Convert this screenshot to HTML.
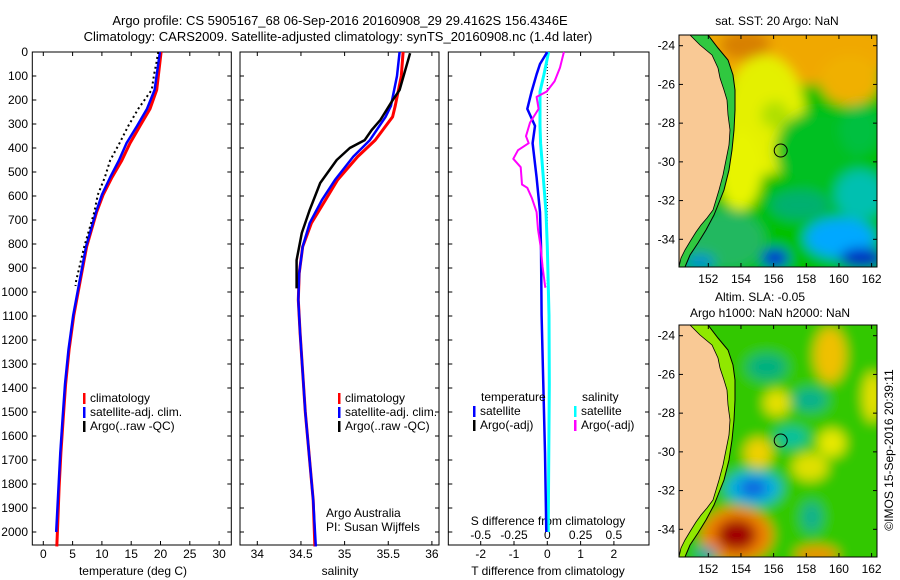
<!DOCTYPE html>
<html><head><meta charset="utf-8">
<style>
html,body{margin:0;padding:0;background:#fff;width:900px;height:580px;overflow:hidden;}
svg{display:block;font-family:"Liberation Sans",sans-serif;}
text{fill:#000;}
</style></head>
<body>
<svg id="fig" width="900" height="580" viewBox="0 0 900 580" xmlns="http://www.w3.org/2000/svg">
<defs>
<filter id="blur6" x="-20%" y="-20%" width="140%" height="140%"><feGaussianBlur stdDeviation="6"/></filter>
<clipPath id="clipM1"><rect x="679" y="35" width="198" height="232"/></clipPath>
<clipPath id="clipM2"><rect x="679" y="325" width="198" height="232"/></clipPath>
</defs>
<text x="340" y="25" font-size="13" text-anchor="middle">Argo profile: CS 5905167_68 06-Sep-2016 20160908_29 29.4162S 156.4346E</text>
<text x="338" y="41" font-size="13" text-anchor="middle">Climatology: CARS2009. Satellite-adjusted climatology: synTS_20160908.nc (1.4d later)</text>
<g id="panels"></g>
<g id="maps"></g>
</svg>
<script>
// ---------- Temperature panel data ----------
const tDepth = [0,158,237,308,380,452,523,595,667,810,954,1097,1240,1384,1527,1670,1814,2000,2060];
const tClim = [20.1,19.35,18.2,16.5,14.8,13.4,11.7,10.2,9.1,7.4,6.3,5.2,4.4,3.8,3.4,3.0,2.7,2.4,2.3];
const tSatDepth = [0,158,237,308,380,452,523,595,667,810,954,1097,1240,1384,1527,1670,1814,2000];
const tSat = [19.9,19.0,17.7,16.0,14.2,12.9,11.4,10.0,9.0,7.3,6.2,5.1,4.3,3.7,3.3,2.9,2.6,2.2];
const tArgoDepth = [0,45,93,158,237,308,380,452,523,595,667,810,954,975];
const tArgo = [19.6,19.3,18.9,18.5,16.2,14.5,13.0,11.4,10.5,9.3,8.7,7.0,5.6,5.5];
const tTicks = [0,5,10,15,20,25,30];
// ---------- Salinity panel data ----------
const sDepth = [0,100,225,270,367,436,533,617,713,811,922,1033,1171,1500,1867,2060];
const sClim = [35.67,35.65,35.58,35.55,35.35,35.15,34.92,34.78,34.62,34.52,34.48,34.47,34.49,34.55,34.64,34.66];
const sSat = [35.63,35.6,35.53,35.47,35.29,35.10,34.89,34.74,34.60,34.52,34.48,34.47,34.49,34.55,34.64,34.67];
const sArgoDepth = [5,158,207,283,325,367,400,450,546,658,754,867,985];
const sArgo = [35.75,35.63,35.54,35.41,35.31,35.23,35.06,34.91,34.72,34.60,34.51,34.45,34.45];
const sTicks = [34,34.5,35,35.5,36];
// ---------- Difference panel data ----------
const dTDepth = [0,50,93,165,237,308,380,523,667,810,1097,1384,1670,2000];
const dTSat = [0,-0.22,-0.32,-0.47,-0.6,-0.37,-0.44,-0.32,-0.22,-0.19,-0.17,-0.12,-0.07,-0.03];
const dSSatDepth = [0,93,165,308,380,523,667,810,1097,1384,2000];
const dSSat = [0.01,-0.025,-0.055,-0.055,-0.05,-0.03,-0.01,0,0.0125,0.015,0.007];
const dSArgoDepth = [0,65,122,165,187,237,294,351,380,409,445,480,552,566,610,667,739,810,896,982];
const dSArgo = [0.125,0.095,0.055,-0.005,-0.08,-0.065,-0.13,-0.16,-0.14,-0.22,-0.255,-0.2,-0.19,-0.15,-0.115,-0.08,-0.07,-0.05,-0.035,-0.015];
const dTTicks = [-2,-1,0,1,2];
const dSTicks = [-0.5,-0.25,0,0.25,0.5];
const dSTickLabels = ["-0.5","-0.25","0","0.25","0.5"];
const depthTicks = [0,100,200,300,400,500,600,700,800,900,1000,1100,1200,1300,1400,1500,1600,1700,1800,1900,2000];
const latTicks = [-24,-26,-28,-30,-32,-34];
const lonTicks = [152,154,156,158,160,162];

const NS = "http://www.w3.org/2000/svg";
const yD = d => 52 + d * 0.24;
const xT = t => 43.3 + t * 5.86;
const xS = s => 257.3 + (s - 34) * 87.3;
const xDT = t => 547.3 + t * 33.3;
const xDS = s => 547.3 + s * 133.2;
const lonX = lon => 708.3 + (lon - 152) * 16.33;
const latY1 = lat => 45.7 + (-24 - lat) * 19.36;
const latY2 = lat => 335.7 + (-24 - lat) * 19.36;

function mk(tag, attrs, parent) {
  const e = document.createElementNS(NS, tag);
  for (const k in attrs) e.setAttribute(k, attrs[k]);
  parent.appendChild(e);
  return e;
}
function txt(str, x, y, size, anchor, parent) {
  const e = mk("text", {x: x, y: y, "font-size": size, "text-anchor": anchor}, parent);
  e.textContent = str;
  return e;
}
function poly(depths, vals, fx, color, w, parent, dash) {
  const pts = depths.map((d, i) => fx(vals[i]).toFixed(1) + "," + yD(d).toFixed(1)).join(" ");
  const a = {points: pts, fill: "none", stroke: color, "stroke-width": w, "stroke-linejoin": "round"};
  if (dash) a["stroke-dasharray"] = dash;
  return mk("polyline", a, parent);
}

const P = document.getElementById("panels");
const frames = [[32.3, 231.3, "temperature-panel"], [240, 439, "salinity-panel"], [448.3, 649, "difference-panel"]];
frames.forEach(f => {
  const r = mk("rect", {x: f[0], y: 52, width: f[1] - f[0], height: 493, fill: "none", stroke: "#000", "stroke-width": 1}, P);
  
  
  depthTicks.forEach(d => {
    mk("line", {x1: f[0], x2: f[0] + 4, y1: yD(d), y2: yD(d), stroke: "#000"}, P);
    mk("line", {x1: f[1], x2: f[1] - 4, y1: yD(d), y2: yD(d), stroke: "#000"}, P);
  });
});
depthTicks.forEach(d => {
  const t = txt(String(d), 28, yD(d) + 4, 12, "end", P);
  
  
});
tTicks.forEach(v => {
  mk("line", {x1: xT(v), x2: xT(v), y1: 545, y2: 541, stroke: "#000"}, P);
  mk("line", {x1: xT(v), x2: xT(v), y1: 52, y2: 56, stroke: "#000"}, P);
  const t = txt(String(v), xT(v), 558, 12, "middle", P);
  
  
});
let at = txt("temperature (deg C)", 133, 575, 12, "middle", P);


sTicks.forEach(v => {
  mk("line", {x1: xS(v), x2: xS(v), y1: 545, y2: 541, stroke: "#000"}, P);
  mk("line", {x1: xS(v), x2: xS(v), y1: 52, y2: 56, stroke: "#000"}, P);
  const t = txt(String(v), xS(v), 558, 12, "middle", P);
  
  
});
at = txt("salinity", 340, 575, 12, "middle", P);


dTTicks.forEach(v => {
  mk("line", {x1: xDT(v), x2: xDT(v), y1: 545, y2: 541, stroke: "#000"}, P);
  mk("line", {x1: xDT(v), x2: xDT(v), y1: 52, y2: 56, stroke: "#000"}, P);
  const t = txt(String(v), xDT(v), 558, 12, "middle", P);
  
  
});
dSTicks.forEach((v, i) => {
  const t = txt(dSTickLabels[i], xDS(v), 539, 12, "middle", P);
  
  
});
at = txt("S difference from climatology", 548, 525, 12, "middle", P);


at = txt("T difference from climatology", 548, 575, 12, "middle", P);


const zl = mk("line", {x1: xDT(0), x2: xDT(0), y1: 52, y2: yD(980), stroke: "#000", "stroke-dasharray": "1 2"}, P);



let s;
s = poly(tDepth, tClim, xT, "#ff0000", 3, P);


s = poly(tSatDepth, tSat, xT, "#0000ff", 2.5, P);


s = poly(tArgoDepth, tArgo, xT, "#000000", 2, P, "2 3");


s = poly(sDepth, sClim, xS, "#ff0000", 3, P);


s = poly(sDepth, sSat, xS, "#0000ff", 2.5, P);


s = poly(sArgoDepth, sArgo, xS, "#000000", 2.5, P);


s = poly(dSSatDepth, dSSat, xDS, "#00ffff", 3, P);


s = poly(dTDepth, dTSat, xDT, "#0000ff", 2.5, P);


s = poly(dSArgoDepth, dSArgo, xDS, "#ff00ff", 2, P);



function legend(x, y, color, label, name) {
  const g = mk("g", {}, P);
  
  
  mk("rect", {x: x, y: y - 9, width: 2.5, height: 11, fill: color}, g);
  txt(label, x + 7, y, 12, "start", g);
}
legend(83, 402, "#ff0000", "climatology", "legend-temp-climatology");
legend(83, 416, "#0000ff", "satellite-adj. clim.", "legend-temp-satellite");
legend(83, 430, "#000000", "Argo(..raw -QC)", "legend-temp-argo");
legend(338, 402, "#ff0000", "climatology", "legend-sal-climatology");
legend(338, 416, "#0000ff", "satellite-adj. clim.", "legend-sal-satellite");
legend(338, 430, "#000000", "Argo(..raw -QC)", "legend-sal-argo");
at = txt("temperature", 481, 401, 12, "start", P);


at = txt("salinity", 582, 401, 12, "start", P);


legend(473, 415, "#0000ff", "satellite", "legend-t-diff-satellite");
legend(473, 429, "#000000", "Argo(-adj)", "legend-t-diff-argo");
legend(574, 415, "#00ffff", "satellite", "legend-s-diff-satellite");
legend(574, 429, "#ff00ff", "Argo(-adj)", "legend-s-diff-argo");
at = txt("Argo Australia", 326, 517, 12, "start", P);


at = txt("PI: Susan Wijffels", 326, 531, 12, "start", P);



// ---------- Maps ----------
const M = document.getElementById("maps");
const coast = [[679,35],[690,35],[700,45],[712,55],[718,68],[720,78],[724,90],[727,100],[728,115],[730,130],[729,145],[726,160],[723,175],[719,190],[716,200],[713,210],[707,218],[701,225],[696,232],[691,240],[685,250],[681,258],[679,267]];
const contour = [[708,35],[718,48],[728,60],[733,75],[735,90],[735,110],[734,130],[732,150],[729,170],[724,190],[720,200],[714,215],[706,230],[698,243],[690,255],[685,267]];
function ptsOff(arr, dy) { return arr.map(p => p[0] + "," + (p[1] + dy)).join(" "); }

function drawMap(dy, clip, blobs, base, shelf, name, latY) {
  const g = mk("g", {"clip-path": "url(#" + clip + ")"}, M);
  
  
  mk("rect", {x: 679, y: 35 + dy, width: 198, height: 232, fill: base}, g);
  const bg = mk("g", {filter: "url(#blur6)"}, g);
  mk("rect", {x: 670, y: 26 + dy, width: 216, height: 250, fill: base}, bg);
  blobs.forEach(b => mk("ellipse", {cx: b[0], cy: b[1], rx: b[2], ry: b[3], fill: b[4]}, bg));
  mk("polygon", {points: ptsOff(contour, dy) + " 679," + (267 + dy) + " 679," + (35 + dy), fill: shelf}, g);
  const land = mk("polygon", {points: ptsOff(coast, dy), fill: "#f9c995", stroke: "#000", "stroke-width": 0.8}, g);
  
  
  mk("polyline", {points: ptsOff(contour, dy), fill: "none", stroke: "#000", "stroke-width": 1}, g);
  const c = mk("circle", {cx: lonX(156.4346), cy: latY(-29.4162), r: 6.5, fill: "none", stroke: "#000", "stroke-width": 1}, g);
  
  
  mk("rect", {x: 679, y: 35 + dy, width: 198, height: 232, fill: "none", stroke: "#000", "stroke-width": 1}, M);
  latTicks.forEach(l => {
    mk("line", {x1: 679, x2: 683, y1: latY(l), y2: latY(l), stroke: "#000"}, M);
    mk("line", {x1: 877, x2: 873, y1: latY(l), y2: latY(l), stroke: "#000"}, M);
    const t = txt(String(l), 675, latY(l) + 4, 12, "end", M);
    
    
  });
  lonTicks.forEach(l => {
    mk("line", {x1: lonX(l), x2: lonX(l), y1: 267 + dy, y2: 263 + dy, stroke: "#000"}, M);
    mk("line", {x1: lonX(l), x2: lonX(l), y1: 35 + dy, y2: 39 + dy, stroke: "#000"}, M);
    const t = txt(String(l), lonX(l), 283 + dy, 12, "middle", M);
    
    
  });
}
const sstBlobs = [
  [790,50,110,35,"#f0a800"],[745,45,25,15,"#d88000"],[850,80,30,25,"#f0b000"],
  [765,115,40,60,"#e4f000"],[740,170,22,40,"#e8f400"],[775,115,14,14,"#b0e000"],
  [820,150,45,40,"#00c020"],[860,130,20,25,"#00c040"],[725,240,40,30,"#20b860"],
  [860,195,25,25,"#00c0b0"],[800,205,30,15,"#00b070"],[840,238,35,20,"#00a8ff"],
  [775,258,14,10,"#0030d0"],[862,258,22,10,"#0028c0"],[700,262,15,8,"#0090d0"]
];
drawMap(0, "clipM1", sstBlobs, "#00c000", "#30c840", "sst-map", latY1);
const slaBlobs = [
  [830,355,16,28,"#f0c000"],[776.7,403,13,13,"#e8e000"],[766.7,367,20,13,"#00b080"],
  [810,400,17,11,"#00b090"],[791.7,437,16,10,"#00c0a0"],[758.3,453,14,15,"#f0d000"],
  [753.3,488,28,17,"#00b0e0"],[753.3,488,14,9,"#1060e0"],[736.7,535,36,28,"#f08000"],
  [736.7,535,20,16,"#a00000"],[816.7,555,22,9,"#f09000"],[810,467,18,14,"#e0e000"],
  [831.7,443,14,14,"#e8e800"],[811.7,517,10,15,"#10b090"],[873,397,10,25,"#e8e000"],
  [706.7,553,10,6,"#10a0c0"]
];
drawMap(290, "clipM2", slaBlobs, "#30c800", "#90e800", "sla-map", latY2);

at = txt("sat. SST: 20 Argo: NaN", 777, 25, 12, "middle", M);


at = txt("Altim. SLA: -0.05", 760, 301, 12, "middle", M);


at = txt("Argo h1000: NaN h2000: NaN", 770, 317, 12, "middle", M);


at = mk("text", {x: 0, y: 0, "font-size": 12, "text-anchor": "middle", transform: "translate(893,450) rotate(-90)"}, M);
at.textContent = "©IMOS 15-Sep-2016 20:39:11";


</script>
</body></html>
